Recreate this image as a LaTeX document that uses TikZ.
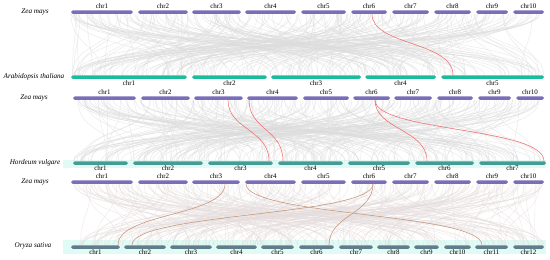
\documentclass[tikz,border=0pt]{standalone}
\usepackage{fontspec}
\setmainfont{Liberation Serif}
\usetikzlibrary{positioning}
\definecolor{zeacol}{RGB}{122,110,184}
\definecolor{aracol}{RGB}{26,188,156}
\definecolor{horcol}{RGB}{72,155,148}
\definecolor{orycol}{RGB}{96,125,139}
\definecolor{bandcol}{RGB}{224,250,246}
\definecolor{redlink}{RGB}{240,110,110}
\definecolor{tanlink}{RGB}{196,150,120}
\tikzset{
  bar/.style={rectangle,rounded corners=1.75pt,minimum height=3.5pt,inner sep=0pt},
  zbar/.style={bar,fill=zeacol},
  abar/.style={bar,fill=aracol},
  hbar/.style={bar,fill=horcol},
  obar/.style={bar,fill=orycol},
  lab/.style={inner sep=0pt,font=\fontsize{7}{7}\selectfont},
  species/.style={inner sep=0pt,font=\fontsize{7.2}{8}\selectfont\itshape},
  tangle/.style={draw=black!14,opacity=0.55,line width=0.5pt},
  redsyn/.style={draw=redlink,line width=0.55pt},
  tansyn/.style={draw=tanlink,line width=0.55pt}
}
\begin{document}
\begin{tikzpicture}[x=1pt,y=-1pt]
  \useasboundingbox (0,0) rectangle (550,260);
  % bands behind Hordeum and Oryza
  \fill[bandcol] (63,159.5) rectangle (546,167.5);
  \fill[bandcol] (63,240) rectangle (546,254);
  % grey background links
  \pgfmathsetseed{11}
  \foreach \k in {1,...,250}{
    \pgfmathsetmacro\xa{71+473*rnd}
    \pgfmathsetmacro\xb{71+473*rnd}
    \draw[tangle] (\xa,14) .. controls (\xa,48) and (\xb,42) .. (\xb,75);
  }
  \foreach \k in {1,...,250}{
    \pgfmathsetmacro\xa{73+471*rnd}
    \pgfmathsetmacro\xb{73+471*rnd}
    \draw[tangle] (\xa,100) .. controls (\xa,134) and (\xb,128) .. (\xb,161);
  }
  \foreach \k in {1,...,250}{
    \pgfmathsetmacro\xa{71+473*rnd}
    \pgfmathsetmacro\xb{71+473*rnd}
    \draw[tangle,draw=red!25!black!14] (\xa,184) .. controls (\xa,218) and (\xb,212) .. (\xb,245);
  }
  % species names
  \node[species] (sp1) at (35,12) {Zea mays};
  \node[species] (sp2) at (34,77) {Arabidopsis thaliana};
  \node[species] (sp3) at (34,98) {Zea mays};
  \node[species] (sp4) at (35,163) {Hordeum vulgare};
  \node[species] (sp5) at (35,182) {Zea mays};
  \node[species] (sp6) at (33,246) {Oryza sativa};
  % chromosomes
  \foreach \a/\b [count=\i] in {71/133,138/188,192/241,245/296,301/346,351/387,392/429,434/471,476/508,513/544}{
    \node[zbar,minimum width={\b-\a}] (z1-\i) at ({(\a+\b)/2},12) {};
    \node[lab,above=1pt of z1-\i] (z1-\i l) {chr\i};
  }
  \foreach \a/\b [count=\i] in {71/187,192/267,271/361,365/436,441/544}{
    \node[abar,minimum width={\b-\a}] (a-\i) at ({(\a+\b)/2},77) {};
    \node[lab,below=1pt of a-\i] (a-\i l) {chr\i};
  }
  \foreach \a/\b [count=\i] in {73/136,141/190,194/243,247/298,303/349,353/390,394/432,437/473,478/511,516/544}{
    \node[zbar,minimum width={\b-\a}] (z2-\i) at ({(\a+\b)/2},98) {};
    \node[lab,above=1pt of z2-\i] (z2-\i l) {chr\i};
  }
  \foreach \a/\b [count=\i] in {73/128,133/203,208/273,278/343,348/410,415/474,479/546}{
    \node[hbar,minimum width={\b-\a}] (h-\i) at ({(\a+\b)/2},163) {};
    \node[lab,below=0.5pt of h-\i] (h-\i l) {chr\i};
  }
  \foreach \a/\b [count=\i] in {71/133,138/188,192/240,245/296,301/346,351/387,392/429,434/471,476/508,513/544}{
    \node[zbar,minimum width={\b-\a}] (z3-\i) at ({(\a+\b)/2},182) {};
    \node[lab,above=1pt of z3-\i] (z3-\i l) {chr\i};
  }
  \foreach \a/\b [count=\i] in {71/120,124/166,170/212,216/257,261/294,299/334,339/373,377/410,414/439,444/471,475/508,513/544}{
    \node[obar,minimum width={\b-\a}] (o-\i) at ({(\a+\b)/2},247) {};
    \node[lab,below=0.5pt of o-\i] (o-\i l) {chr\i};
  }
  % highlighted links
  \draw[redsyn] ([xshift=3]z1-6.south) .. controls +(0,32) and +(0,-34) .. ([xshift=-39.5]a-5.north);
  \draw[redsyn] ([xshift=9.5]z2-3.south) .. controls +(0,30) and +(0,-32) .. ([xshift=28.5]h-3.north);
  \draw[redsyn] ([xshift=-23.5]z2-4.south) .. controls +(0,30) and +(0,-32) .. ([xshift=-27.5]h-4.north);
  \draw[redsyn] ([xshift=3.5]z2-6.south) .. controls +(0,30) and +(0,-32) .. ([xshift=-17.5]h-6.north);
  \draw[redsyn] ([xshift=3.5]z2-6.south) .. controls +(0,32) and +(0,-34) .. ([xshift=31.5]h-7.north);
  \draw[tansyn] ([xshift=9]z3-3.south) .. controls +(0,32) and +(0,-32) .. ([xshift=22.5]o-1.north);
  \draw[tansyn] ([xshift=-24.5]z3-4.south) .. controls +(0,32) and +(0,-32) .. ([xshift=-9.5]o-11.north);
  \draw[tansyn] ([xshift=4]z3-6.south) .. controls +(0,32) and +(0,-32) .. ([xshift=-13]o-2.north);
  \draw[tansyn] ([xshift=4]z3-6.south) .. controls +(0,30) and +(0,-30) .. ([xshift=12.5]o-6.north);
\end{tikzpicture}
\end{document}
